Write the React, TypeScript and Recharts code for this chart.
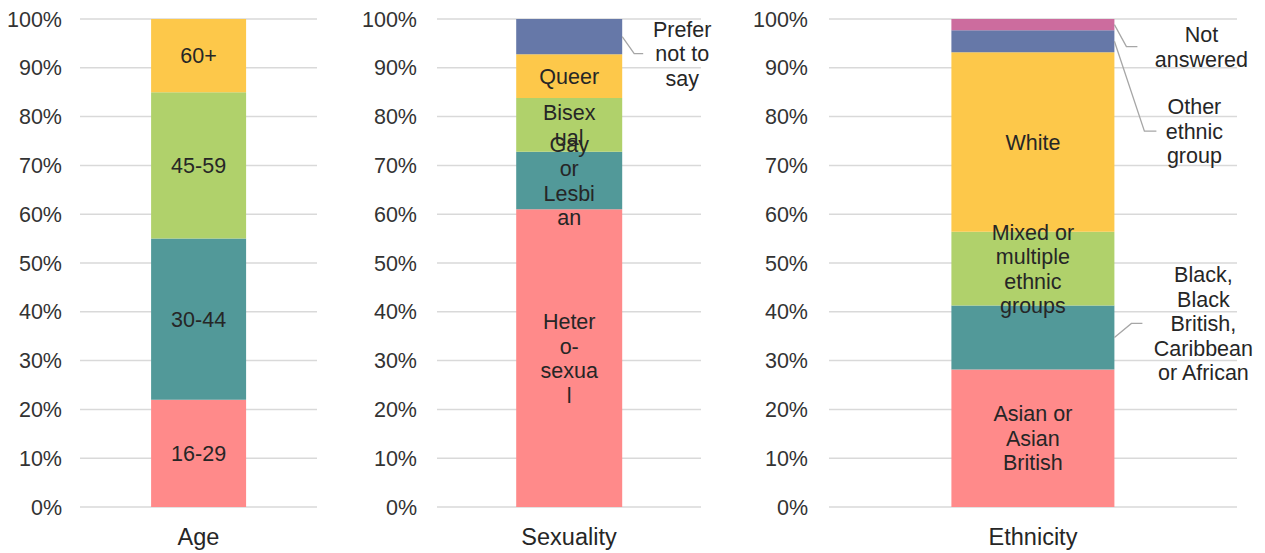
import React from 'react';
import { BarChart, Bar, XAxis, YAxis, CartesianGrid, LabelList } from 'recharts';

const percentTicks = [0, 10, 20, 30, 40, 50, 60, 70, 80, 90, 100];

const ageGroups = ['16-29', '30-44', '45-59', '60+'];
const ageValues = [22, 33, 30, 15];
const ageLabelLines = [['16-29'], ['30-44'], ['45-59'], ['60+']];

const sexualityGroups = ['Heterosexual', 'Gay or Lesbian', 'Bisexual', 'Queer', 'Prefer not to say'];
const sexualityValues = [61, 11.8, 11, 9, 7.2];
const sexualityLabelLines = [
  ['Heter', 'o-', 'sexua', 'l'],
  ['Gay', 'or', 'Lesbi', 'an'],
  ['Bisex', 'ual'],
  ['Queer'],
  ['Prefer', 'not to', 'say'],
];

const ethnicityGroups = [
  'Asian or Asian British',
  'Black, Black British, Caribbean or African',
  'Mixed or multiple ethnic groups',
  'White',
  'Other ethnic group',
  'Not answered',
];
const ethnicityValues = [28.2, 13.1, 15.1, 36.8, 4.5, 2.3];
const ethnicityLabelLines = [
  ['Asian or', 'Asian', 'British'],
  ['Black,', 'Black', 'British,', 'Caribbean', 'or African'],
  ['Mixed or', 'multiple', 'ethnic', 'groups'],
  ['White'],
  ['Other', 'ethnic', 'group'],
  ['Not', 'answered'],
];

const palette = ['#FF8A8A', '#529999', '#B0D16B', '#FDC84A', '#6678A8', '#CC6C9E'];

const FONT = '"Liberation Sans", Arial, sans-serif';
const LINE_H = 24.5;

// leader-line callouts for labels that sit outside the bar (offsets from the bar's right edge)
type Callout = { dx: number; dy: number; run: number; textDx: number };
const sexualityCallouts: (Callout | null)[] = [null, null, null, null, { dx: 12, dy: 17, run: 9, textDx: 39 }];
const ethnicityCallouts: (Callout | null)[] = [
  null,
  { dx: 17, dy: -14, run: 11, textDx: 61 },
  null,
  null,
  { dx: 30, dy: 90, run: 12, textDx: 38 },
  { dx: 12, dy: 22, run: 11, textDx: 64 },
];

function MultiText({ cx, cy, lines }: { cx: number; cy: number; lines: string[] }) {
  const top = cy - ((lines.length - 1) * LINE_H) / 2;
  return (
    <text textAnchor="middle" fontSize={21.5} fontFamily={FONT} fill="#262626">
      {lines.map((l, i) => (
        <tspan key={i} x={cx} y={top + i * LINE_H} dy="0.36em">
          {l}
        </tspan>
      ))}
    </text>
  );
}

function renderLabel(props: any, lines: string[], callout: Callout | null) {
  const x = Number(props.x);
  const y = Number(props.y);
  const w = Number(props.width);
  const h = Number(props.height);
  const cy = y + h / 2;
  if (!callout) {
    return <MultiText cx={x + w / 2} cy={cy} lines={lines} />;
  }
  const sx = x + w;
  const ex = sx + callout.dx;
  const ey = cy + callout.dy;
  const endX = ex + callout.run;
  return (
    <g>
      <polyline
        points={`${sx},${cy} ${ex},${ey} ${endX},${ey}`}
        fill="none"
        stroke="#A6A6A6"
        strokeWidth={1.3}
      />
      <MultiText cx={endX + callout.textDx} cy={ey} lines={lines} />
    </g>
  );
}

interface PanelProps {
  category: string;
  groups: string[];
  values: number[];
  labelLines: string[][];
  callouts?: (Callout | null)[];
  left: number;
  width: number;
  yAxisWidth: number;
  marginRight: number;
  tickMargin: number;
}

function StackPanel({ category, groups, values, labelLines, callouts, left, width, yAxisWidth, marginRight, tickMargin }: PanelProps) {
  const row: Record<string, any> = { name: category };
  values.forEach((v, i) => {
    row[`s${i}`] = v;
  });

  return (
    <div style={{ position: 'absolute', left, top: 0 }}>
      <BarChart
        width={width}
        height={553}
        data={[row]}
        margin={{ top: 19, right: marginRight, bottom: 0, left: 0 }}
        barCategoryGap="30%"
      >
        <CartesianGrid vertical={false} stroke="#D9D9D9" strokeWidth={1.5} />
        <XAxis
          dataKey="name"
          axisLine={false}
          tickLine={false}
          tickSize={0}
          tickMargin={21}
          height={46}
          tick={{ fontSize: 23.5, fill: '#262626', fontFamily: FONT }}
        />
        <YAxis
          domain={[0, 100]}
          ticks={percentTicks}
          tickFormatter={(v) => `${v}%`}
          axisLine={false}
          tickLine={false}
          tickSize={0}
          tickMargin={tickMargin}
          width={yAxisWidth}
          interval={0}
          tick={{ fontSize: 21.5, fill: '#333333', fontFamily: FONT }}
        />
        {groups.map((g, i) => (
          <Bar key={g} dataKey={`s${i}`} name={g} stackId="a" fill={palette[i]} isAnimationActive={false}>
            <LabelList
              dataKey={`s${i}`}
              content={(p: any) => renderLabel(p, labelLines[i], callouts ? callouts[i] : null)}
            />
          </Bar>
        ))}
      </BarChart>
    </div>
  );
}

export default function App() {
  return (
    <div style={{ position: 'absolute', left: 0, top: 0, width: 1265, height: 553, background: '#fff', overflow: 'hidden' }}>
      <StackPanel
        category="Age"
        groups={ageGroups}
        values={ageValues}
        labelLines={ageLabelLines}
        left={0}
        width={330}
        yAxisWidth={80}
        marginRight={13}
        tickMargin={18}
      />
      <StackPanel
        category="Sexuality"
        groups={sexualityGroups}
        values={sexualityValues}
        labelLines={sexualityLabelLines}
        callouts={sexualityCallouts}
        left={340}
        width={380}
        yAxisWidth={97}
        marginRight={19}
        tickMargin={20}
      />
      <StackPanel
        category="Ethnicity"
        groups={ethnicityGroups}
        values={ethnicityValues}
        labelLines={ethnicityLabelLines}
        callouts={ethnicityCallouts}
        left={720}
        width={545}
        yAxisWidth={109}
        marginRight={28}
        tickMargin={21}
      />
    </div>
  );
}
